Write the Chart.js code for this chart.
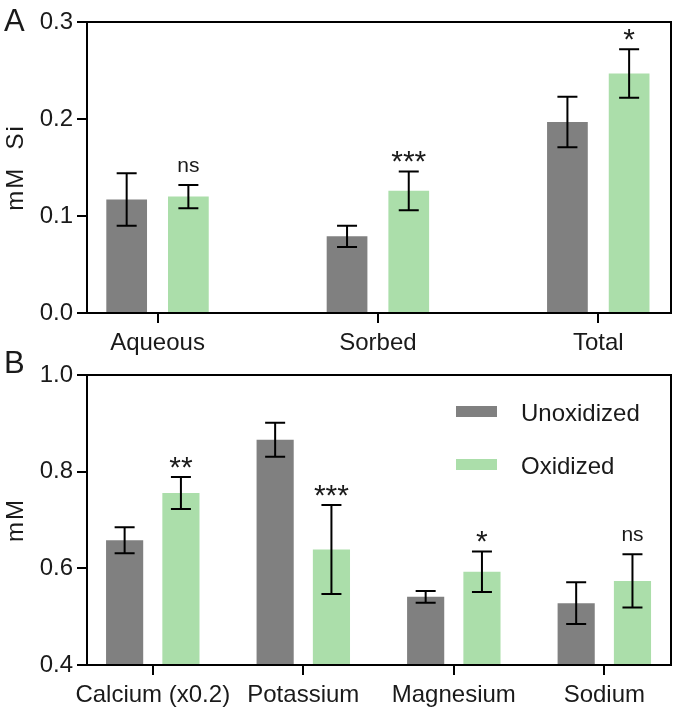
<!DOCTYPE html>
<html>
<head>
<meta charset="utf-8">
<script src="https://cdn.jsdelivr.net/npm/chart.js@4/dist/chart.umd.min.js"></script>
<style>
  html, body { margin: 0; padding: 0; background: #fff; }
  #wrap { position: relative; width: 677px; height: 711px; }
  canvas { position: absolute; left: 0; top: 0; }
</style>
</head>
<body>
<div id="wrap">
  <canvas id="siChart" width="677" height="711"></canvas>
  <canvas id="ionChart" width="677" height="711"></canvas>
</div>
<script>
// panel A: silicon
const siCategories = ["Aqueous", "Sorbed", "Total"];
const siUnox = [0.117, 0.079, 0.197];
const siUnoxErr = [0.027, 0.011, 0.026];
const siOx = [0.120, 0.126, 0.247];
const siOxErr = [0.012, 0.020, 0.025];
const siSig = ["ns", "***", "*"];

// panel B: cations
const ionCategories = ["Calcium (x0.2)", "Potassium", "Magnesium", "Sodium"];
const ionUnox = [0.658, 0.866, 0.541, 0.528];
const ionUnoxErr = [0.027, 0.035, 0.012, 0.043];
const ionOx = [0.756, 0.639, 0.593, 0.574];
const ionOxErr = [0.033, 0.092, 0.042, 0.055];
const ionSig = ["**", "***", "*", "ns"];

const seriesNames = ["Unoxidized", "Oxidized"];
const GREY = "#808080";
const GREEN = "#abdeaa";
const INK = "#1a1a1a";
const FONT = "'Liberation Sans', Arial, Helvetica, sans-serif";

Chart.defaults.font.family = FONT;
Chart.defaults.color = INK;

function toPoints(vals) {
  return vals.map((v, i) => ({ x: i, y: v }));
}

// error bars + significance marks, drawn from the scales
const errorBars = {
  id: "errorBars",
  afterDatasetsDraw(chart) {
    const ctx = chart.ctx;
    const yScale = chart.scales.y;
    ctx.save();
    ctx.strokeStyle = "#000";
    ctx.lineWidth = 2;
    chart.data.datasets.forEach((ds, di) => {
      const meta = chart.getDatasetMeta(di);
      meta.data.forEach((bar, i) => {
        const v = ds.data[i].y;
        const e = ds.errors[i];
        const yt = yScale.getPixelForValue(v + e);
        const yb = yScale.getPixelForValue(v - e);
        ctx.beginPath();
        ctx.moveTo(bar.x, yt);
        ctx.lineTo(bar.x, yb);
        ctx.moveTo(bar.x - 10, yt);
        ctx.lineTo(bar.x + 10, yt);
        ctx.moveTo(bar.x - 10, yb);
        ctx.lineTo(bar.x + 10, yb);
        ctx.stroke();
        if (ds.marks) {
          const m = ds.marks[i];
          const isNs = m === "ns";
          ctx.fillStyle = INK;
          ctx.textAlign = "center";
          ctx.textBaseline = "alphabetic";
          ctx.font = (isNs ? "21px " : "30px ") + FONT;
          ctx.fillText(m, bar.x, yt - (isNs ? 13 : 0));
        }
      });
    });
    ctx.restore();
  }
};

// closed frame, y title and panel letter
const frame = {
  id: "frame",
  afterDraw(chart, args, opts) {
    const { ctx, chartArea: a } = chart;
    ctx.save();
    ctx.strokeStyle = "#000";
    ctx.lineWidth = 2;
    ctx.strokeRect(a.left, a.top, a.right - a.left, a.bottom - a.top);
    ctx.fillStyle = INK;
    ctx.font = "31px " + FONT;
    ctx.textAlign = "left";
    ctx.textBaseline = "alphabetic";
    ctx.fillText(opts.letter, 4, opts.letterY);

    ctx.translate(23, (a.top + a.bottom) / 2);
    ctx.rotate(-Math.PI / 2);
    ctx.font = "24px " + FONT;
    ctx.letterSpacing = "2px";
    ctx.textAlign = "center";
    ctx.fillText(opts.title, 0, 0);
    ctx.restore();
  }
};

// legend box in panel B
const boxLegend = {
  id: "boxLegend",
  afterDraw(chart, args, opts) {
    if (!opts.show) return;
    const ctx = chart.ctx;
    ctx.save();
    ctx.font = "24px " + FONT;
    ctx.textAlign = "left";
    ctx.textBaseline = "alphabetic";
    chart.data.datasets.forEach((ds, i) => {
      const y = opts.y + i * 53;
      ctx.fillStyle = ds.backgroundColor;
      ctx.fillRect(opts.x, y, 41, 11);
      ctx.fillStyle = INK;
      ctx.fillText(ds.label, opts.x + 65, y + 15);
    });
    ctx.restore();
  }
};

function makeChart(el, cats, unox, unoxErr, ox, oxErr, sig, o) {
  return new Chart(document.getElementById(el), {
    type: "bar",
    data: {
      datasets: [
        { label: seriesNames[0], data: toPoints(unox), errors: unoxErr,
          backgroundColor: GREY, borderWidth: 0 },
        { label: seriesNames[1], data: toPoints(ox), errors: oxErr, marks: sig,
          backgroundColor: GREEN, borderWidth: 0 }
      ]
    },
    options: {
      responsive: false,
      animation: false,
      events: [],
      categoryPercentage: o.catPct,
      barPercentage: 0.66,
      layout: { padding: { top: o.top, right: 6, bottom: o.bottom, left: 0 } },
      plugins: {
        legend: { display: false },
        tooltip: { enabled: false },
        frame: { letter: o.letter, letterY: o.letterY, title: o.title },
        boxLegend: { show: o.legend, x: 456, y: 406 }
      },
      scales: {
        x: {
          type: "linear",
          offset: false,
          min: o.xMin,
          max: o.xMax,
          afterBuildTicks: (s) => { s.ticks = cats.map((c, i) => ({ value: i })); },
          afterFit: (s) => { s.height = o.xHeight; },
          ticks: {
            autoSkip: false,
            maxRotation: 0,
            padding: 6,
            font: { size: 24 },
            color: INK,
            callback: (v) => cats[v]
          },
          grid: { offset: false, drawOnChartArea: false, drawTicks: true, tickLength: 10,
                  color: "#000", lineWidth: 2 },
          border: { display: true, color: "#000", width: 2 }
        },
        y: {
          min: o.yMin,
          max: o.yMax,
          afterFit: (s) => { s.width = 87; },
          ticks: {
            stepSize: o.step,
            padding: 4,
            font: { size: 24 },
            color: INK,
            callback: (v) => v.toFixed(1)
          },
          grid: { drawOnChartArea: false, drawTicks: true, tickLength: 10,
                  color: "#000", lineWidth: 2 },
          border: { display: true, color: "#000", width: 2 }
        }
      }
    },
    plugins: [errorBars, frame, boxLegend]
  });
}

makeChart("siChart", siCategories, siUnox, siUnoxErr, siOx, siOxErr, siSig, {
  top: 22, bottom: 351, xHeight: 47, xMin: -0.32, xMax: 2.33, catPct: 0.56,
  yMin: 0, yMax: 0.3, step: 0.1, title: "mM  Si", letter: "A", letterY: 31, legend: false
});

makeChart("ionChart", ionCategories, ionUnox, ionUnoxErr, ionOx, ionOxErr, ionSig, {
  top: 375, bottom: 0, xHeight: 46, xMin: -0.437, xMax: 3.443, catPct: 0.748,
  yMin: 0.4, yMax: 1.0, step: 0.2, title: "mM", letter: "B", letterY: 373, legend: true
});
</script>
</body>
</html>
